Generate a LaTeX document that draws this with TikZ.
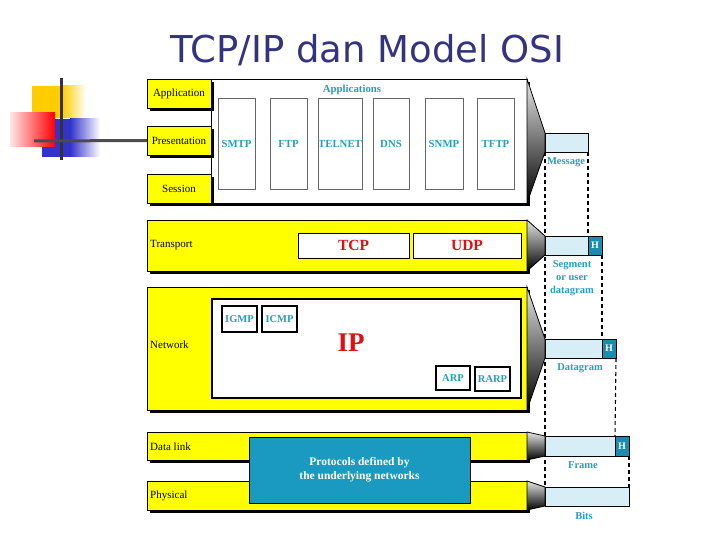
\documentclass[tikz,border=0pt]{standalone}
\usepackage{fontspec}
\setmainfont{Liberation Serif}
\newfontfamily\titlefont{DejaVu Sans}
\usetikzlibrary{shadows,backgrounds}
\definecolor{lyellow}{RGB}{255,255,0}
\definecolor{tealtxt}{RGB}{40,158,186}
\definecolor{hdark}{RGB}{26,140,176}
\definecolor{lblue}{RGB}{216,238,246}
\definecolor{protblue}{RGB}{26,154,192}
\definecolor{redtxt}{RGB}{224,16,16}
\definecolor{navy}{RGB}{51,51,128}
\definecolor{decoyellow}{RGB}{255,204,0}
\definecolor{decoblue}{RGB}{51,51,204}
\begin{document}
\begin{tikzpicture}[x=1pt,y=-1pt,
  sz/.style 2 args={minimum width=#1pt, minimum height=#2pt},
  box/.style={draw, inner sep=0pt, outer sep=0pt, anchor=north west},
  shad/.style={drop shadow={shadow xshift=3pt, shadow yshift=-3pt, fill=black, opacity=1}},
  lylbl/.style={box, fill=lyellow, line width=0.8pt, shad, font=\fontsize{11}{12}\selectfont},
  band/.style={box, fill=lyellow, line width=0.8pt, shad},
  bandlbl/.style={anchor=west, inner sep=0pt, font=\fontsize{11}{12}\selectfont},
  appsub/.style={box, fill=white, draw=gray!80!black, line width=0.7pt, text=tealtxt, font=\fontsize{10.8}{12}\selectfont\bfseries},
  ipsub/.style={box, fill=white, line width=1.3pt, text=tealtxt, font=\fontsize{10.5}{12}\selectfont\bfseries},
  tpsub/.style={box, fill=white, line width=1pt, text=redtxt, font=\fontsize{15.5}{17}\selectfont\bfseries},
  pkt/.style={box, fill=lblue, line width=0.8pt},
  hbox/.style={box, fill=hdark, line width=0.8pt, text=white, font=\fontsize{10}{12}\selectfont\bfseries},
  pktlbl/.style={text=tealtxt, inner sep=0pt, align=center, font=\fontsize{10.5}{12.8}\selectfont\bfseries},
  trap/.style={draw=black, line width=0.8pt, top color=gray!20, bottom color=black},
  dashline/.style={line width=1.1pt, dash pattern=on 4pt off 3pt}
]
\useasboundingbox (0,0) rectangle (720,540);

% title
\node[text=navy, font=\titlefont\fontsize{37}{40}\selectfont] (title) at (367,50) {TCP/IP dan Model OSI};

% decoration
\fill[decoyellow] (32,86) rectangle (62,118);
\shade[left color=decoyellow, right color=white] (62,86) rectangle (86,118);
\fill[decoblue] (42,119) rectangle (70,157);
\shade[left color=decoblue, right color=white] (70,119) rectangle (100,157);
\shade[left color=red!10, right color=red] (10,113) rectangle (55,147);

% application block
\node[box, fill=white, line width=0.8pt, shad, sz={316}{124}] (appbox) at (211,79) {};
\node[lylbl, sz={64}{29}] (applbl) at (147,79) {Application};
\node[lylbl, sz={64}{29}] (preslbl) at (147,126) {Presentation};
\node[lylbl, sz={64}{29}] (sesslbl) at (147,174) {Session};
\node[text=tealtxt, inner sep=0pt, font=\fontsize{10.8}{12}\selectfont\bfseries] (appstitle) at (352,90) {Applications};
\node[appsub, sz={37}{91}] (smtp) at (218,98) {SMTP};
\node[appsub, sz={37}{91}] (ftp) at (270,98) {FTP};
\node[appsub, sz={44}{91}] (telnet) at (318,98) {TELNET};
\node[appsub, sz={36}{91}] (dns) at (373,98) {DNS};
\node[appsub, sz={38}{91}] (snmp) at (425,98) {SNMP};
\node[appsub, sz={37}{91}] (tftp) at (477,98) {TFTP};

% decoration lines
\coordinate (decoL) at (34,141);
\draw[line width=3pt, black!80] (61,78) -- (61,160);
\draw[line width=3pt, black!70] (decoL) -- (preslbl.west);

% transport
\node[band, sz={380}{51}] (transport) at (147,220) {};
\node[bandlbl] (translbl) at (150,245) {Transport};
\node[tpsub, sz={111}{25}] (tcp) at (298,233) {TCP};
\node[tpsub, sz={108}{25}] (udp) at (413,233) {UDP};

% network
\node[band, sz={380}{123}] (network) at (147,287) {};
\node[bandlbl] (netlbl) at (150,345) {Network};
\node[box, fill=white, line width=1.3pt, sz={309}{99}] (ipbox) at (212,299) {};
\node[ipsub, sz={35}{26}] (igmp) at (222,306) {IGMP};
\node[ipsub, sz={35}{26}] (icmp) at (262,306) {ICMP};
\node[ipsub, sz={34}{24}] (arp) at (436,366) {ARP};
\node[ipsub, sz={35}{24}] (rarp) at (475,367) {RARP};
\node[text=redtxt, inner sep=0pt, font=\fontsize{27}{30}\selectfont\bfseries] (ip) at (351,343) {IP};

% data link & physical
\node[band, sz={380}{28}] (datalink) at (147,432) {};
\node[bandlbl] (dllbl) at (150,447) {Data link};
\node[band, sz={380}{29}] (physical) at (147,481) {};
\node[bandlbl] (phylbl) at (150,496) {Physical};
\node[box, fill=protblue, line width=0.8pt, text=white, align=center, sz={221}{66},
      font=\fontsize{11.5}{14}\selectfont\bfseries] (prot) at (249,437) {Protocols defined by\\the underlying networks};

% packets
\node[pkt, sz={43}{19}] (msg) at (545,133) {};
\node[pkt, sz={43}{19}] (seg) at (545,236) {};
\node[hbox, sz={14}{19}] (segH) at (588,236) {H};
\node[pkt, sz={57}{19}] (dg) at (545,339) {};
\node[hbox, sz={14}{19}] (dgH) at (602,339) {H};
\node[pkt, sz={70}{20}] (fr) at (545,436) {};
\node[hbox, sz={14}{20}] (frH) at (615,436) {H};
\node[pkt, sz={84}{19}] (bits) at (545,487) {};

% funnels
\path[trap] (appbox.north east) -- (msg.north west) -- (msg.south west) -- (appbox.south east) -- cycle;
\path[trap] (transport.north east) -- (seg.north west) -- (seg.south west) -- (transport.south east) -- cycle;
\path[trap] (network.north east) -- (dg.north west) -- (dg.south west) -- (network.south east) -- cycle;
\path[trap] (datalink.north east) -- (fr.north west) -- (fr.south west) -- (datalink.south east) -- cycle;
\path[trap] (physical.north east) -- (bits.north west) -- (bits.south west) -- (physical.south east) -- cycle;

% packet labels
\node[pktlbl] (msglbl) at (566,162) {Message};
\node[pktlbl] (seglbl) at (572,278) {Segment\\or user\\datagram};
\node[pktlbl] (dglbl) at (580,368) {Datagram};
\node[pktlbl] (frlbl) at (583,465) {Frame};
\node[pktlbl] (bitslbl) at (584,516) {Bits};

% dashed lines
\begin{pgfonlayer}{background}
\draw[dashline] (msg.south west) -- (bits.north west);
\draw[dashline] (msg.south east) -- (segH.north west);
\draw[dashline] (segH.south east) -- (dgH.north west);
\draw[dashline] (dgH.south east) -- (frH.north west);
\draw[dashline] (frH.south east) -- (bits.north east);
\end{pgfonlayer}
\end{tikzpicture}
\end{document}
